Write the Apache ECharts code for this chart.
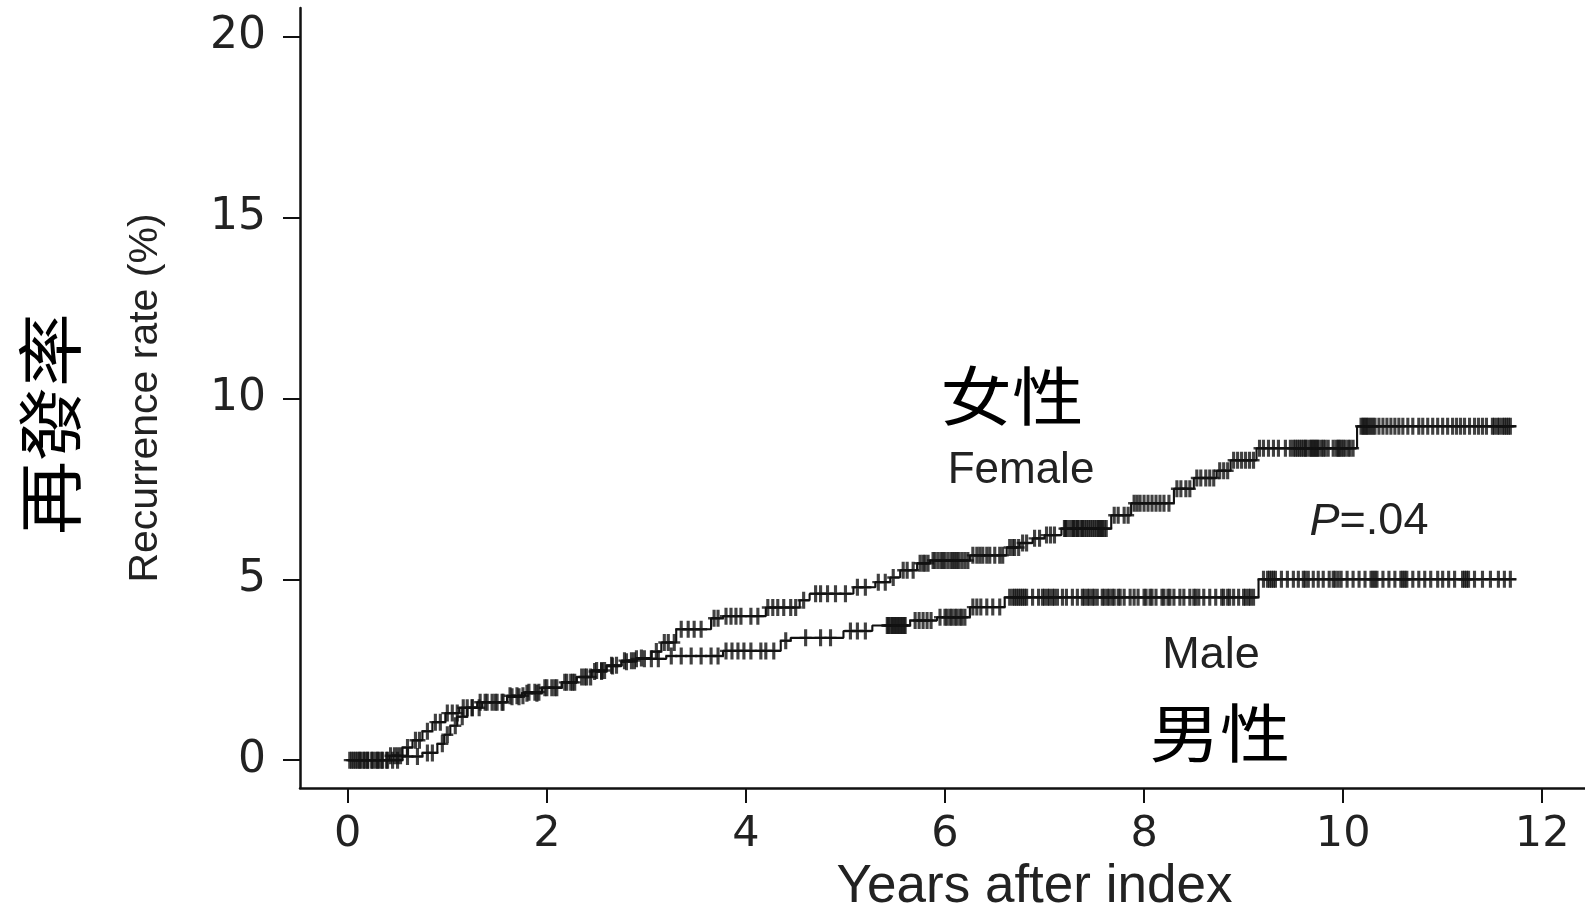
<!DOCTYPE html>
<html>
<head>
<meta charset="utf-8">
<script src="https://cdn.jsdelivr.net/npm/echarts@6/dist/echarts.min.js"></script>
<style>
html,body{margin:0;padding:0;background:#fff;}
#c{width:1585px;height:910px;}
</style>
</head>
<body>
<div id="c"></div>
<script>
// ---- data ----
const xTicks = [0, 2, 4, 6, 8, 10, 12];
const yTicks = [0, 5, 10, 15, 20];
const curveEnd = 11.74;

// [years, cumulative recurrence %] at each event step
const femaleSteps = [
  [0,0],[0.42,0.12],[0.55,0.35],[0.65,0.55],[0.75,0.8],[0.85,1.05],[0.98,1.3],[1.12,1.45],
  [1.3,1.6],[1.6,1.78],[1.78,1.88],[1.95,2.0],[2.15,2.15],[2.3,2.3],[2.45,2.48],[2.6,2.62],
  [2.75,2.75],[2.9,2.82],[3.05,3.0],[3.15,3.25],[3.3,3.62],[3.65,3.92],[3.77,3.98],[4.2,4.22],
  [4.54,4.42],[4.64,4.6],[5.08,4.78],[5.3,4.92],[5.45,5.05],[5.55,5.25],[5.72,5.44],[5.85,5.52],
  [6.25,5.66],[6.62,5.88],[6.75,6.0],[6.88,6.13],[7.0,6.22],[7.17,6.4],[7.67,6.77],[7.87,7.1],
  [8.3,7.5],[8.5,7.8],[8.73,8.0],[8.87,8.29],[9.13,8.62],[10.14,9.23]
];
const maleSteps = [
  [0,0],[0.55,0.1],[0.75,0.2],[0.9,0.45],[0.97,0.7],[1.03,0.95],[1.1,1.2],[1.2,1.45],
  [1.35,1.6],[1.6,1.75],[1.75,1.85],[1.95,2.0],[2.15,2.15],[2.3,2.3],[2.45,2.45],[2.6,2.6],
  [2.75,2.72],[2.9,2.8],[3.2,2.88],[3.77,3.02],[4.35,3.3],[4.45,3.38],[4.98,3.57],[5.27,3.72],
  [5.65,3.86],[5.92,3.95],[6.25,4.23],[6.6,4.5],[9.15,5.0]
];

// censoring times (+ marks)
const femaleCensor = [
  0.02,0.06,0.1,0.13,0.17,0.2,0.24,0.28,0.31,0.35,0.39,0.43,0.47,0.5,0.53,
  0.6,0.68,0.72,0.8,0.88,0.93,1.0,1.05,1.1,1.16,1.2,1.25,
  1.33,1.38,1.45,1.5,1.56,1.63,1.7,1.76,1.82,1.88,1.92,1.98,2.05,2.1,2.18,2.24,2.28,2.35,2.4,2.44,2.5,2.55,2.58,2.65,2.7,2.78,2.85,2.88,2.95,
  3.1,3.18,3.22,3.28,3.35,3.42,3.48,3.55,3.68,3.72,3.8,3.85,3.9,3.95,4.05,4.12,4.22,4.27,4.32,4.38,4.45,4.5,4.58,4.7,4.75,4.82,4.9,5.0,5.12,5.2,5.33,5.4,5.48,
  5.58,5.62,5.68,5.75,5.78,5.8,5.83,5.88,5.9,5.93,5.96,5.98,6.0,6.03,6.06,6.08,6.1,6.12,6.14,6.17,6.2,6.23,6.28,6.32,6.35,6.38,6.42,6.45,6.5,6.55,6.58,
  6.65,6.68,6.7,6.74,6.78,6.82,6.9,6.95,7.02,7.06,7.1,
  7.2,7.21,7.22,7.25,7.28,7.29,7.31,7.33,7.34,7.37,7.38,7.4,7.42,7.44,7.46,7.48,7.5,7.52,7.54,7.55,7.57,7.58,7.6,7.62,
  7.7,7.74,7.8,7.84,7.9,7.93,7.96,8.0,8.04,8.08,8.12,8.16,8.2,8.25,8.33,8.37,8.42,8.46,8.53,8.57,8.62,8.66,8.7,8.76,8.8,8.84,8.9,8.94,8.98,9.02,9.06,9.1,
  9.16,9.2,9.25,9.3,9.35,9.42,9.47,9.5,9.52,9.54,9.56,9.58,9.6,9.62,9.63,9.66,9.68,9.69,9.71,9.72,9.74,9.75,9.78,9.8,9.82,9.85,9.9,9.93,9.95,9.96,9.98,10.0,10.02,10.05,10.07,10.1,
  10.18,10.2,10.21,10.23,10.24,10.26,10.28,10.3,10.32,10.36,10.4,10.44,10.48,10.52,10.56,10.6,10.65,10.7,10.76,10.8,10.85,10.9,10.95,11.0,11.05,11.1,11.14,11.18,11.22,11.27,
  11.32,11.36,11.4,11.44,11.5,11.52,11.55,11.57,11.6,11.62,11.64,11.66,11.68
];
const maleCensor = [
  0.04,0.08,0.12,0.16,0.2,0.25,0.3,0.34,0.4,0.45,0.5,0.6,0.7,0.8,0.85,
  0.95,1.0,1.08,1.15,1.25,1.32,1.4,1.48,1.55,1.65,1.72,1.8,1.9,2.0,2.08,2.2,2.26,2.38,2.48,2.55,2.66,2.8,2.9,2.98,
  3.05,3.12,3.25,3.35,3.45,3.55,3.65,3.72,3.8,3.86,3.92,3.98,4.05,4.15,4.2,4.28,4.4,4.6,4.75,4.85,5.05,5.12,5.2,
  5.42,5.43,5.45,5.47,5.48,5.5,5.51,5.53,5.54,5.56,5.57,5.59,5.6,5.7,5.74,5.78,5.82,5.86,5.95,6.0,6.02,6.05,6.07,6.1,6.12,6.15,6.17,6.2,
  6.28,6.32,6.36,6.42,6.48,6.55,
  6.65,6.68,6.7,6.72,6.74,6.76,6.78,6.8,6.82,6.88,6.94,6.98,7.0,7.03,7.05,7.08,7.1,7.13,7.18,7.22,7.28,7.33,7.38,7.4,7.43,7.45,7.48,7.5,7.53,
  7.58,7.6,7.63,7.65,7.68,7.7,7.74,7.76,7.8,7.86,7.9,7.94,
  8.0,8.02,8.06,8.08,8.12,8.18,8.2,8.24,8.26,8.3,8.36,8.4,8.46,8.5,8.52,8.55,8.6,8.66,8.72,8.78,8.8,8.84,8.86,8.9,8.95,9.0,9.02,9.05,9.07,9.1,
  9.2,9.24,9.26,9.28,9.3,9.32,9.38,9.44,9.5,9.55,9.6,9.62,9.65,9.7,9.75,9.8,9.86,9.9,9.92,9.95,9.98,10.04,10.1,10.16,10.22,10.28,10.3,10.32,
  10.34,10.4,10.46,10.52,10.58,10.6,10.62,10.64,10.7,10.76,10.82,10.88,10.95,11.0,11.06,11.12,11.2,11.22,11.24,11.26,11.32,11.4,11.48,11.56,11.62,11.68
];

// ---- helpers ----
function stepValue(steps, t) {
  let v = 0;
  for (const s of steps) { if (s[0] <= t) v = s[1]; else break; }
  return v;
}
function curve(steps) {
  return steps.concat([[curveEnd, steps[steps.length - 1][1]]]);
}
function censorPts(steps, times) {
  return times.map(t => [t, stepValue(steps, t)]);
}

const INK = '#111';
// "+" censor mark: filled bars so it renders crisp
const crossSymbol = 'path://M0,6H10V8H0Z M3.7,0H6.3V14H3.7Z';

const chart = echarts.init(document.getElementById('c'), null, {renderer: 'canvas'});
chart.setOption({
  animation: false,
  backgroundColor: '#fff',
  grid: {left: 300, right: 0, top: 8, bottom: 122, containLabel: false, outerBoundsMode: 'none'},
  xAxis: {
    type: 'value', min: -0.48, max: 12.43,
    axisLine: {show: true, onZero: false, lineStyle: {color: INK, width: 2.5}},
    axisTick: {show: true, length: 15, customValues: xTicks, lineStyle: {color: INK, width: 2}},
    axisLabel: {customValues: xTicks, margin: 25, color: '#222', fontFamily: 'DejaVu Sans', fontSize: 43},
    splitLine: {show: false},
    name: 'Years after index', nameLocation: 'middle', nameGap: 70,
    nameTextStyle: {fontFamily: 'Liberation Sans', fontSize: 53, color: '#222', padding: [0, 0, 0, 184]}
  },
  yAxis: {
    type: 'value', min: -0.77, max: 20.79,
    axisLine: {show: true, onZero: false, lineStyle: {color: INK, width: 2.5}},
    axisTick: {show: true, length: 17, customValues: yTicks, lineStyle: {color: INK, width: 2}},
    axisLabel: {customValues: yTicks, margin: 34, color: '#222', fontFamily: 'DejaVu Sans', fontSize: 44},
    splitLine: {show: false},
    name: 'Recurrence rate (%)', nameLocation: 'middle', nameGap: 134, nameRotate: 90,
    nameTextStyle: {fontFamily: 'Liberation Sans', fontSize: 41, color: '#222'}
  },
  series: [
    {name: 'Female', type: 'line', step: 'end', data: curve(femaleSteps), showSymbol: false,
     lineStyle: {color: INK, width: 2.1}, z: 2},
    {name: 'Male', type: 'line', step: 'end', data: curve(maleSteps), showSymbol: false,
     lineStyle: {color: INK, width: 2.1}, z: 2},
    {name: 'Female censored', type: 'scatter', data: censorPts(femaleSteps, femaleCensor),
     symbol: crossSymbol, symbolSize: [12, 17], itemStyle: {color: INK}, z: 3},
    {name: 'Male censored', type: 'scatter', data: censorPts(maleSteps, maleCensor),
     symbol: crossSymbol, symbolSize: [12, 17], itemStyle: {color: INK}, z: 3}
  ],
  graphic: [
    {type: 'text', x: 50, y: 424, rotation: Math.PI / 2, scaleY: 0.89,
     style: {text: '再發率', font: '74px "Noto Sans CJK TC"', fill: '#000', align: 'center', verticalAlign: 'middle'}},
    {type: 'text', x: 1012, y: 396, scaleX: 1.12,
     style: {text: '女性', font: '64px "Noto Sans CJK TC"', fill: '#000', align: 'center', verticalAlign: 'middle'}},
    {type: 'text', x: 1021, y: 471,
     style: {text: 'Female', font: '44px "Liberation Sans"', fill: '#222', align: 'center', verticalAlign: 'middle'}},
    {type: 'text', x: 1369, y: 522,
     style: {rich: {p: {font: 'italic 45px "Liberation Sans"', fill: '#222'}, r: {font: '45px "Liberation Sans"', fill: '#222'}},
             text: '{p|P}{r|=.04}', align: 'center', verticalAlign: 'middle'}},
    {type: 'text', x: 1211, y: 656,
     style: {text: 'Male', font: '45px "Liberation Sans"', fill: '#222', align: 'center', verticalAlign: 'middle'}},
    {type: 'text', x: 1220, y: 733, scaleX: 1.1,
     style: {text: '男性', font: '64px "Noto Sans CJK TC"', fill: '#000', align: 'center', verticalAlign: 'middle'}}
  ]
});
</script>
</body>
</html>
